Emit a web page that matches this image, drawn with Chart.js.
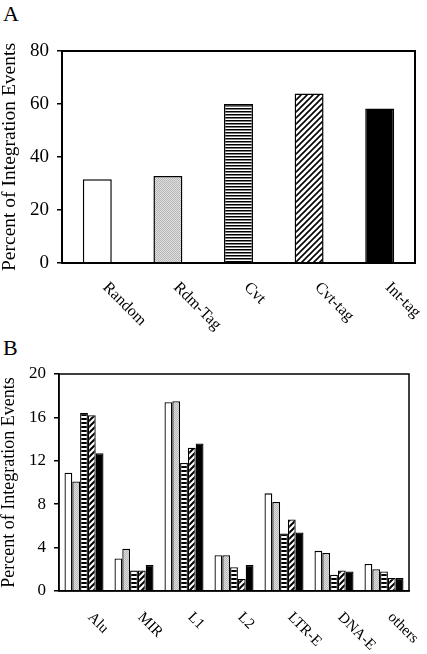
<!DOCTYPE html>
<html>
<head>
<meta charset="utf-8">
<script src="https://cdn.jsdelivr.net/npm/chart.js@4"></script>
<style>
body{margin:0;background:#fff;width:427px;height:654px;position:relative;overflow:hidden;font-family:"Liberation Serif","Times New Roman",serif}
#boxA{position:absolute;left:0;top:0}
#boxB{position:absolute;left:0;top:330px}
.panel{position:absolute;left:3px;font-size:22px;line-height:1;color:#000}
</style>
</head>
<body>
<div class="panel" style="top:3px">A</div>
<div class="panel" style="top:337px">B</div>
<canvas id="boxA" width="427" height="340"></canvas>
<canvas id="boxB" width="427" height="324"></canvas>
<script>
// panel A
var groupsA = ["Random", "Rdm-Tag", "Cvt", "Cvt-tag", "Int-tag"];
var valuesA = [31.6, 32.8, 60, 64, 58.3];

// panel B
var repeatsB = ["Alu", "MIR", "L1", "L2", "LTR-E", "DNA-E", "others"];
var randomB = [10.9, 3.0, 17.4, 3.3, 9.0, 3.7, 2.5];
var rdmTagB = [10.1, 3.9, 17.5, 3.3, 8.2, 3.5, 2.0];
var cvtB    = [16.4, 1.9, 11.8, 2.2, 5.3, 1.5, 1.8];
var cvtTagB = [16.2, 1.9, 13.2, 1.1, 6.6, 1.9, 1.2];
var intTagB = [12.7, 2.4, 13.6, 2.4, 5.4, 1.8, 1.2];

var serif = "'Liberation Serif', 'Times New Roman', serif";
Chart.defaults.color = "#000";
Chart.defaults.font.family = serif;

function stripes(period, lw) {
    var c = document.createElement("canvas");
    c.width = 8; c.height = period;
    var x = c.getContext("2d");
    x.fillStyle = "#fff"; x.fillRect(0, 0, 8, period);
    x.fillStyle = "#000"; x.fillRect(0, 0, 8, lw);
    return x.createPattern(c, "repeat");
}

function hatch(size, lw) {
    var c = document.createElement("canvas");
    c.width = size; c.height = size;
    var x = c.getContext("2d");
    x.fillStyle = "#fff"; x.fillRect(0, 0, size, size);
    x.strokeStyle = "#000"; x.lineWidth = lw;
    x.beginPath();
    x.moveTo(0, size); x.lineTo(size, 0);
    x.moveTo(-size / 2, size / 2); x.lineTo(size / 2, -size / 2);
    x.moveTo(size / 2, size * 1.5); x.lineTo(size * 1.5, size / 2);
    x.stroke();
    return x.createPattern(c, "repeat");
}

function stipple() {
    var c = document.createElement("canvas");
    c.width = 2; c.height = 2;
    var x = c.getContext("2d");
    x.fillStyle = "#dedede"; x.fillRect(0, 0, 2, 2);
    x.fillStyle = "#b8b8b8"; x.fillRect(0, 0, 1, 1); x.fillRect(1, 1, 1, 1);
    return x.createPattern(c, "repeat");
}

function framePlugin(w) {
    return {
        id: "frame",
        afterDraw: function (chart) {
            var a = chart.chartArea, ctx = chart.ctx;
            ctx.save();
            ctx.strokeStyle = "#000"; ctx.lineWidth = w;
            ctx.strokeRect(a.left, a.top, a.right - a.left, a.bottom - a.top);
            ctx.restore();
        }
    };
}

function slantLabels(labels, size, dx, dy) {
    return {
        id: "slant",
        afterDraw: function (chart) {
            var ctx = chart.ctx, xs = chart.scales.x;
            ctx.save();
            ctx.fillStyle = "#000";
            ctx.font = size + "px " + serif;
            ctx.textAlign = "left";
            ctx.textBaseline = "middle";
            labels.forEach(function (l, i) {
                ctx.save();
                ctx.translate(xs.getPixelForValue(i) + dx, chart.chartArea.bottom + dy);
                ctx.rotate(Math.PI / 4);
                ctx.fillText(l, 0, 0);
                ctx.restore();
            });
            ctx.restore();
        }
    };
}

function yAxis(max, step, width, tickSize, titleSize) {
    return {
        min: 0, max: max,
        afterFit: function (s) { s.width = width; },
        ticks: {stepSize: step, padding: 8, font: {size: tickSize}},
        grid: {drawOnChartArea: false, drawTicks: true, tickLength: 5, color: "#000", lineWidth: 1.5},
        border: {color: "#000", width: 1.5},
        title: {display: true, text: "Percent of Integration Events", padding: 0,
                font: {size: titleSize, lineHeight: 1}}
    };
}

function xAxis() {
    return {
        afterFit: function (s) { s.height = 0; },
        ticks: {display: false},
        grid: {display: false},
        border: {color: "#000", width: 1.5}
    };
}

new Chart(document.getElementById("boxA"), {
    type: "bar",
    data: {
        labels: groupsA,
        datasets: [{
            data: valuesA,
            backgroundColor: ["#fff", stipple(), stripes(3, 1.5), hatch(6, 1.6), "#000"],
            borderColor: "#000",
            borderWidth: 1.5,
            barPercentage: 0.41,
            categoryPercentage: 1
        }]
    },
    options: {
        responsive: false,
        animation: false,
        layout: {padding: {top: 51, right: 12, bottom: 77, left: 0}},
        plugins: {legend: {display: false}, tooltip: {enabled: false}},
        scales: {x: xAxis(), y: yAxis(80, 20, 62, 19, 19.5)}
    },
    plugins: [framePlugin(2), slantLabels(groupsA, 16, 8, 22)]
});

var fillsB = ["#fff", stipple(), stripes(4, 2), hatch(6, 2), "#000"];
var seriesB = [randomB, rdmTagB, cvtB, cvtTagB, intTagB];

new Chart(document.getElementById("boxB"), {
    type: "bar",
    data: {
        labels: repeatsB,
        datasets: seriesB.map(function (vals, i) {
            return {
                data: vals,
                backgroundColor: fillsB[i],
                borderColor: "#000",
                borderWidth: 1.3,
                barPercentage: 1,
                categoryPercentage: 0.78
            };
        })
    },
    options: {
        responsive: false,
        animation: false,
        layout: {padding: {top: 44, right: 18, bottom: 63, left: 0}},
        plugins: {legend: {display: false}, tooltip: {enabled: false}},
        scales: {x: xAxis(), y: yAxis(20, 4, 59, 17, 18)}
    },
    plugins: [framePlugin(1.5), slantLabels(repeatsB, 15, 6, 24)]
});
</script>
</body>
</html>
